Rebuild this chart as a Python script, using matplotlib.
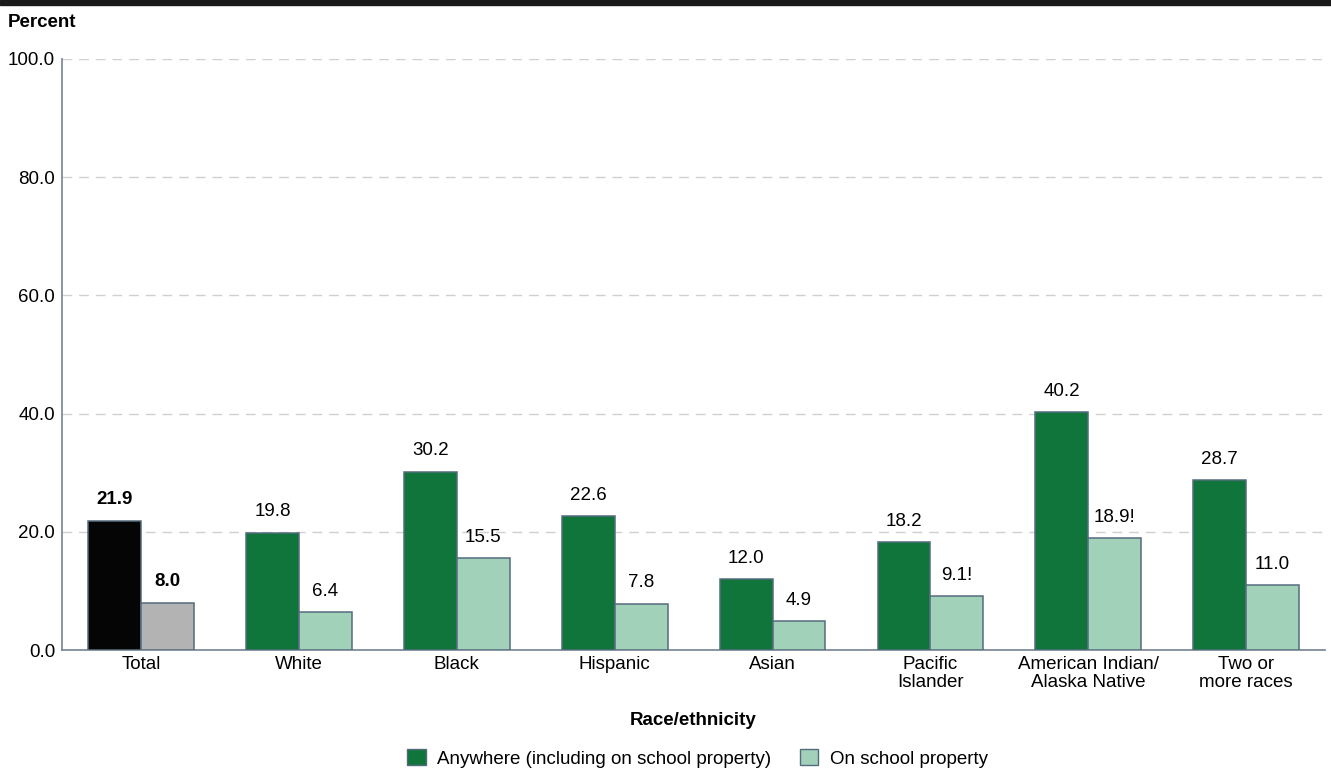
import matplotlib.pyplot as plt
import numpy as np
from matplotlib.patches import Rectangle, Patch

plt.rcParams['font.family'] = ['Liberation Sans', 'DejaVu Sans']

categories = ['Total', 'White', 'Black', 'Hispanic', 'Asian', 'Pacific\nIslander',
              'American Indian/\nAlaska Native', 'Two or\nmore races']
anywhere = [21.9, 19.8, 30.2, 22.6, 12.0, 18.2, 40.2, 28.7]
school = [8.0, 6.4, 15.5, 7.8, 4.9, 9.1, 18.9, 11.0]
school_labels = ['8.0', '6.4', '15.5', '7.8', '4.9', '9.1!', '18.9!', '11.0']

green = '#10753b'
light = '#a2d1b9'
edge = '#556b7d'
fs = 13.5

fig = plt.figure(figsize=(13.31, 7.72), dpi=100)
ax = fig.add_axes([0.0466, 0.158, 0.949, 0.7656])

x = np.arange(len(categories))
w = 0.335
c1 = ['#050505'] + [green] * 7
c2 = ['#b3b3b3'] + [light] * 7
ax.bar(x - w / 2, anywhere, w, color=c1, edgecolor=edge, linewidth=1.1, zorder=3)
ax.bar(x + w / 2, school, w, color=c2, edgecolor=edge, linewidth=1.1, zorder=3)

for i in range(len(categories)):
    wt = 'bold' if i == 0 else 'normal'
    ax.annotate(f'{anywhere[i]:.1f}', (x[i] - w / 2, anywhere[i]), xytext=(0, 9),
                textcoords='offset points', ha='center', va='bottom', fontsize=fs, fontweight=wt)
    ax.annotate(school_labels[i], (x[i] + w / 2, school[i]), xytext=(0, 9),
                textcoords='offset points', ha='center', va='bottom', fontsize=fs, fontweight=wt)

ax.set_xlim(-0.5, 7.5)
ax.set_ylim(0, 100)
ax.set_yticks(np.arange(0, 101, 20))
ax.set_yticklabels([f'{v:.1f}' for v in np.arange(0, 101, 20)])
ax.set_xticks(x)
ax.set_xticklabels(categories, linespacing=1.1)
ax.tick_params(axis='both', length=0, labelsize=fs, colors='black')
ax.tick_params(axis='x', pad=4)
ax.tick_params(axis='y', pad=5)
ax.grid(axis='y', color='#d0d0d0', linestyle=(0, (7, 5)), linewidth=1, zorder=0)
for s in ['top', 'right']:
    ax.spines[s].set_visible(False)
for s in ['left', 'bottom']:
    ax.spines[s].set_color('#7f8c99')
    ax.spines[s].set_linewidth(1.3)

ax.set_xlabel('Race/ethnicity', fontsize=fs, fontweight='bold', labelpad=15)

fig.text(0.006, 0.971, 'Percent', fontsize=fs, fontweight='bold', ha='left', va='center')
fig.add_artist(Rectangle((0, 0.993), 1, 0.007, transform=fig.transFigure, color='#1a1a1a'))

handles = [Patch(facecolor=green, edgecolor=edge, label='Anywhere (including on school property)'),
           Patch(facecolor=light, edgecolor=edge, label='On school property')]
fig.legend(handles=handles, loc='center', bbox_to_anchor=(0.524, 0.018), ncol=2, frameon=False,
           fontsize=fs, handlelength=1.0, handleheight=1.0, handletextpad=0.6, columnspacing=1.5)

fig.savefig('out.png', dpi=100)
